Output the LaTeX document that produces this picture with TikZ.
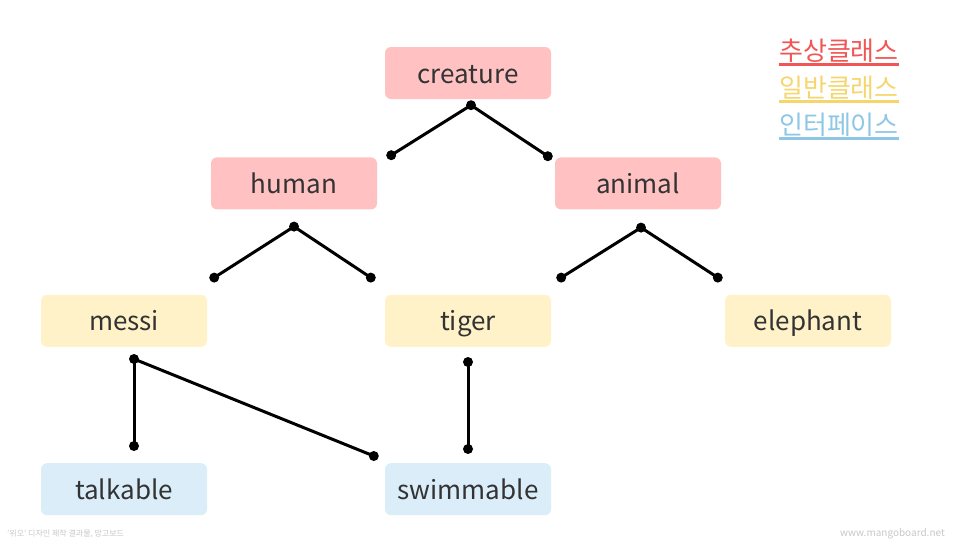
\documentclass[tikz,border=0pt]{standalone}
\usepackage{fontspec}
\setmainfont{Noto Sans CJK KR}
\usetikzlibrary{positioning,calc}
\definecolor{absfill}{HTML}{FFC1C1}
\definecolor{clsfill}{HTML}{FFF2C9}
\definecolor{iffill}{HTML}{DAEDF8}
\definecolor{absink}{HTML}{F25555}
\definecolor{clsink}{HTML}{F5D66E}
\definecolor{ifink}{HTML}{8EC6E6}
\definecolor{txt}{HTML}{333333}
\tikzset{box/.style={rounded corners=6pt,minimum width=166pt,minimum height=52pt,inner sep=0pt,text height=24pt,text depth=4pt,text=txt,font=\fontsize{26}{30}\selectfont},
 abstract/.style={box,fill=absfill},
 concrete/.style={box,fill=clsfill},
 iface/.style={box,fill=iffill},
 link/.style={line width=3pt},
 key/.style={anchor=base west,inner sep=0pt,font=\fontsize{26}{30}\selectfont},
 keyline/.style={line width=2.2pt}}

\begin{document}
\begin{tikzpicture}[x=1pt,y=-1pt]
\useasboundingbox (0,0) rectangle (961,546);
\node[abstract] (creature) at (468,73) {creature};
\node[abstract,below=58pt of creature,xshift=-174pt] (human) {human};
\node[abstract,below=58pt of creature,xshift=170pt] (animal) {animal};
\node[concrete,below=85pt of human,xshift=-170pt] (messi) {messi};
\node[concrete,below=85pt of human,xshift=174pt] (tiger) {tiger};
\node[concrete,below=85pt of animal,xshift=170pt] (elephant) {elephant};
\node[iface,below=116pt of messi] (talkable) {talkable};
\node[iface,below=116pt of tiger] (swimmable) {swimmable};

% connector ends
\coordinate (cr-o) at ($(creature.south)+(3,6)$);
\coordinate (hu-i) at ($(human.north east)+(14,-2)$);
\coordinate (an-i) at ($(animal.north west)+(-7,-1)$);
\coordinate (hu-o) at ($(human.south)+(0,17)$);
\coordinate (me-i) at ($(messi.north east)+(7,-17)$);
\coordinate (ti-i) at ($(tiger.north west)+(-14,-17)$);
\coordinate (an-o) at ($(animal.south)+(3,18)$);
\coordinate (ti-j) at ($(tiger.north east)+(10,-17)$);
\coordinate (el-i) at ($(elephant.north west)+(-7,-17)$);
\coordinate (me-o) at ($(messi.south)+(10,12)$);
\coordinate (ta-i) at ($(talkable.north)+(10,-17)$);
\coordinate (sw-j) at ($(swimmable.north west)+(-11,-7)$);
\coordinate (ti-o) at ($(tiger.south)+(0,15)$);
\coordinate (sw-i) at ($(swimmable.north)+(0,-14)$);

\draw[link] (cr-o)--(hu-i);
\draw[link] (cr-o)--(an-i);
\draw[link] (hu-o)--(me-i);
\draw[link] (hu-o)--(ti-i);
\draw[link] (an-o)--(ti-j);
\draw[link] (an-o)--(el-i);
\draw[link] (me-o)--(ta-i);
\draw[link] (me-o)--(sw-j);
\draw[link] (ti-o)--(sw-i);
\foreach \p in {cr-o,hu-i,an-i,hu-o,me-i,ti-i,an-o,ti-j,el-i,me-o,ta-i,sw-j,ti-o,sw-i}
  \fill (\p) circle (5pt);

% legend
\node[key,text=absink] (abs-key) at (779,60) {추상클래스};
\node[key,text=clsink] (cls-key) at (779,97) {일반클래스};
\node[key,text=ifink] (if-key) at (779,134) {인터페이스};
\draw[keyline,absink] ($(abs-key.base west)+(0,4.5)$) -- ($(abs-key.base east)+(0,4.5)$);
\draw[keyline,clsink] ($(cls-key.base west)+(0,4.5)$) -- ($(cls-key.base east)+(0,4.5)$);
\draw[keyline,ifink] ($(if-key.base west)+(0,4.5)$) -- ($(if-key.base east)+(0,4.5)$);

% footer
\node[anchor=west,inner sep=0pt,text=black!22,font=\fontsize{8}{9}\selectfont] (credit) at (7,534) {'위오' 디자인 제작 결과물, 망고보드};
\node[anchor=east,inner sep=0pt,text=black!22,font=\fontsize{10}{11}\selectfont] (site) at (945,534) {www.mangoboard.net};
\end{tikzpicture}
\end{document}
